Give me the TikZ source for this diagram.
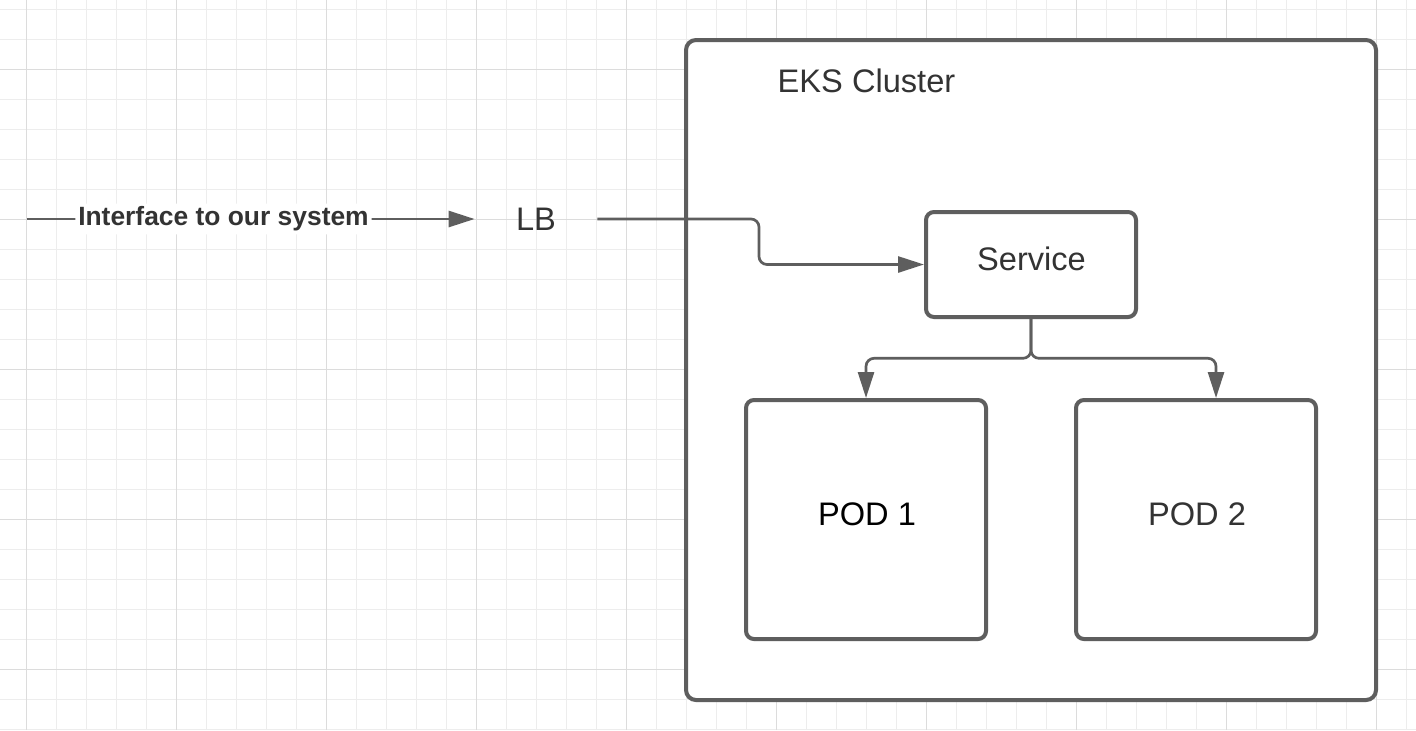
\documentclass[tikz,border=0pt]{standalone}
\usepackage{fontspec}
\setmainfont{Liberation Sans}
\usetikzlibrary{arrows.meta}
\definecolor{gridminor}{HTML}{EDEDED}
\definecolor{gridmajor}{HTML}{DCDCDC}
\definecolor{linegray}{HTML}{5E5E5E}
\definecolor{textgray}{HTML}{333333}
\tikzset{
  gminor/.style={draw=gridminor, line width=0.5pt},
  gmajor/.style={draw=gridmajor, line width=0.5pt},
  boxshape/.style={draw=linegray, fill=white, line width=2pt, rounded corners=4pt, inner sep=0pt},
  conn/.style={draw=linegray, line width=1.35pt, rounded corners=4pt},
  tip/.style={-{Triangle[length=13pt,width=8pt]}},
  txt/.style={text=textgray, font=\fontsize{16.3}{19}\selectfont, inner sep=0pt},
  ifont/.style={text=textgray, font=\fontsize{13.2}{16}\selectfont\bfseries}
}
\begin{document}
\begin{tikzpicture}[x=0.5pt,y=-0.5pt]
\useasboundingbox (0,0) rectangle (1416,730);
\fill[white] (0,0) rectangle (1416,730);
% grid
\foreach \i in {0,...,46} {\draw[gminor] ({26.667+30*\i},0) -- ({26.667+30*\i},730);}
\foreach \j in {0,...,24} {\draw[gminor] (0,{9.333+30*\j}) -- (1416,{9.333+30*\j});}
\foreach \i in {0,...,9} {\draw[gmajor] ({26.667+150*\i},0) -- ({26.667+150*\i},730);}
\foreach \j in {0,...,4} {\draw[gmajor] (0,{69.333+150*\j}) -- (1416,{69.333+150*\j});}
% cluster
\node[boxshape, rounded corners=5pt, minimum width=345pt, minimum height=330pt] (cluster) at (1031,370) {};
\node[txt, anchor=base] (clusterlbl) at (866.5,92.5) {EKS Cluster};
% service
\node[boxshape, minimum width=105pt, minimum height=52.5pt] (svc) at (1031,264.5) {};
\node[txt, anchor=base] (svclbl) at (1031.5,270) {Service};
% pods
\node[boxshape, minimum width=120pt, minimum height=119.5pt] (pod1) at (866,519.5) {};
\node[txt, text=black, anchor=base] (pod1lbl) at (867,525) {POD 1};
\node[boxshape, minimum width=120pt, minimum height=119.5pt] (pod2) at (1196,519.5) {};
\node[txt, anchor=base] (pod2lbl) at (1197,525) {POD 2};
% LB
\node[txt, minimum width=61pt, minimum height=12pt] (lb) at (536,219) {LB};
\coordinate (src) at (27,219);
% connectors
\draw[conn, tip] (src) -- node[pos=0.439, fill=white, inner sep=1.5pt, ifont] (iface) {Interface to our system} (lb.west);
\draw[conn, tip] (lb.east) -| (759,242) |- (svc.west);
\draw[conn, tip] (svc.south) |- (950,358.3) -| (pod1.north);
\draw[conn, tip] (svc.south) |- (1120,358.3) -| ([xshift=10pt]pod2.north);
\end{tikzpicture}
\end{document}
